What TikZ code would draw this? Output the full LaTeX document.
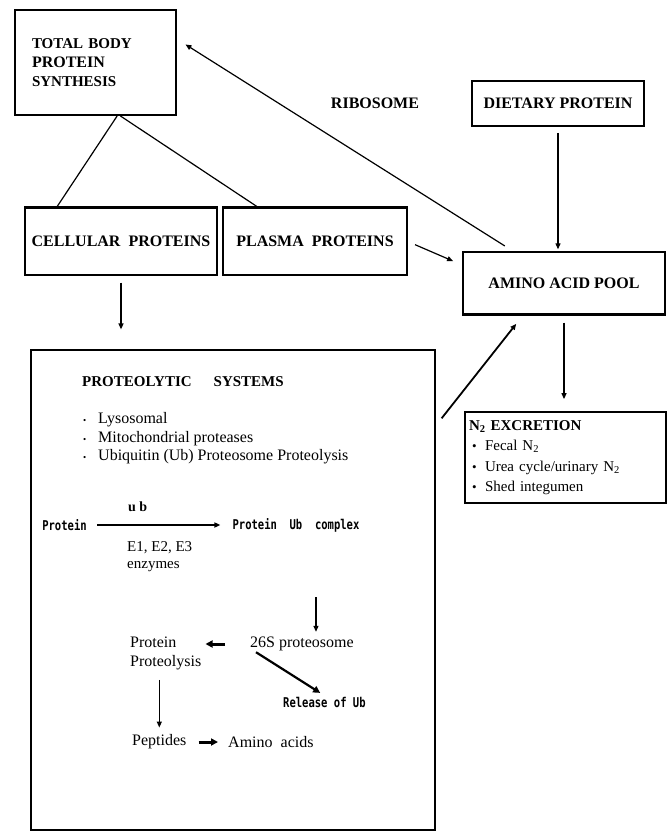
\documentclass[tikz,border=0pt]{standalone}
\usepackage{fontspec}
\setmainfont{Liberation Serif}
\newfontfamily\typfont[FakeStretch=0.78]{DejaVu Sans Mono}
\usetikzlibrary{arrows.meta}
\newcommand{\blt}{\makebox[15pt][l]{\fontsize{9}{9}\selectfont\textbullet}}
\newcommand{\bigblt}{\makebox[13pt][l]{\fontsize{13}{13}\selectfont\textbullet}}

\begin{document}
\begin{tikzpicture}[
    x=1pt, y=-1pt,
    box/.style ={
        draw,
        line width=1.4pt,
        inner sep=0pt,
        font=\bfseries\fontsize{16}{19}\selectfont
    },
    txt/.style ={
        inner sep=1pt,
        font=\fontsize{16}{18.5}\selectfont
    },
    typ/.style ={
        inner sep=1pt,
        font=\typfont\bfseries\fontsize{13.5}{15}\selectfont
    },
    arr/.style ={
        -{Triangle[length=6pt,width=5pt]},
        line width=1.2pt
    },
    fat/.style ={
        -{Triangle[length=7pt,width=7pt]},
        line width=3pt
    }
    ]
    \useasboundingbox (0,0) rectangle (669,832);

    \node[box, line width=2pt, minimum width=161, minimum height=105, text width=127, align=left] (total) at (95.5,62.5)
        {{\fontsize{15}{18.5}\selectfont TOTAL BODY}\\PROTEIN\\{\fontsize{15}{18.5}\selectfont SYNTHESIS}};
    \node[box, minimum width=192, minimum height=67] (cell) at (121,241.5) {CELLULAR~~PROTEINS};
    \node[box, minimum width=184, minimum height=67] (plasma) at (315,241.5) {PLASMA~~PROTEINS};
    \node[box, line width=1.8pt, minimum width=172, minimum height=45] (diet) at (558,103.5) {DIETARY PROTEIN};
    \node[box, minimum width=202, minimum height=62] (amino) at (564,283) {AMINO ACID POOL\hspace{14pt}};
    \node[txt, font=\bfseries\fontsize{16}{19}\selectfont] (ribo) at (375,103) {RIBOSOME};
    \node[box, line width=1.2pt, minimum width=404, minimum height=480] (sysbox) at (233,590) {};
    \node[box, line width=1.8pt, minimum width=201, minimum height=91, text width=193, align=left,
        font=\fontsize{15}{20.3}\selectfont] (excr) at (565.5,457.5)
        {\textbf{N\textsubscript{2} EXCRETION}\\
         \hspace{3pt}\bigblt Fecal N\textsubscript{2}\\
         \hspace{3pt}\bigblt Urea cycle/urinary N\textsubscript{2}\\
         \hspace{3pt}\bigblt Shed integumen};

    \draw[line width=3pt] (cell.north west) -- (cell.north east);
    \draw[line width=3pt] (plasma.north west) -- (plasma.north east);
    \draw[line width=2.2pt] (amino.south west) -- (amino.south east);

    \node[txt, anchor=west, font=\bfseries\fontsize{15}{18}\selectfont] (title) at (81,382) {PROTEOLYTIC\hspace{22pt}SYSTEMS};
    \node[txt, anchor=west, align=left] (list) at (82,438.5)
        {\blt Lysosomal\\ \blt Mitochondrial proteases\\ \blt Ubiquitin (Ub) Proteosome Proteolysis};

    \node[typ] (prot) at (64.5,525) {Protein};
    \node[typ] (ubc) at (296,525) {Protein~~Ub~~complex};
    \node[txt, anchor=west, font=\bfseries\fontsize{14}{16}\selectfont] (ub) at (127,507) {u b};
    \node[txt, anchor=north west, align=left, font=\fontsize{15}{17}\selectfont] (enz) at (126,540) {E1, E2, E3\\enzymes};
    \node[txt, anchor=west] (prot26) at (249,644) {26S proteosome};
    \node[txt, anchor=west, align=left] (pp) at (129,653.5) {Protein\\Proteolysis};
    \node[typ, anchor=west] (rel) at (282,702) {Release of~Ub};
    \node[txt, anchor=west] (pep) at (131,742) {Peptides};
    \node[txt, anchor=west] (aa) at (227,742) {Amino~~acids};

    \foreach \src/\dst in {-68/cell.152, -65/plasma.149}
        \draw[line width=1.2pt] (total.\src) -- (\dst);

    \draw[arr, shorten <=10pt, shorten >=10pt] (amino.148) -- (total.16);
    \draw[arr, shorten <=6pt, shorten >=2pt] (diet.south) -- (diet.south |- amino.north);
    \draw[arr, shorten <=8pt, shorten >=10pt] (plasma.east) -- (amino.170);
    \draw[arr, shorten <=7pt, shorten >=20pt] (cell.south) -- (cell.south |- sysbox.north);
    \draw[arr, line width=1.8pt, shorten <=9.7pt, shorten >=11.6pt] (sysbox.39.2) -- (amino.218.5);
    \draw[arr, shorten <=8pt, shorten >=12pt] (amino.south) -- (amino.south |- excr.north);

    \draw[arr, line width=1.8pt, shorten <=9.5pt, shorten >=11pt] (prot) -- (ubc);
    \draw[arr, shorten <=64pt, shorten >=4pt] ([xshift=14pt]prot26.north |- ubc.south) -- ([xshift=14pt]prot26.north);
    \draw[fat, shorten <=24pt, shorten >=3pt] (prot26.west) -- (pp.east |- prot26.west);
    \draw[fat, line width=2.2pt, shorten >=5pt] ([xshift=7pt]prot26.south west) -- (rel.north);
    \draw[arr, shorten <=9pt, shorten >=6pt] (pp.south -| pep.north) -- (pep.north);
    \draw[fat, shorten <=11pt, shorten >=9pt] (pep.east) -- (aa.west);

\end{tikzpicture}
\end{document}
